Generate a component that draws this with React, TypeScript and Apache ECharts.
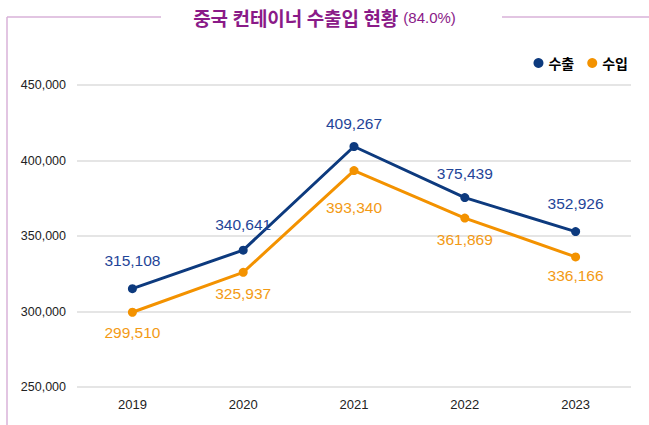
import React, { useEffect, useRef } from "react";
import * as echarts from "echarts";

const years = ["2019", "2020", "2021", "2022", "2023"];
const exportValues = [315108, 340641, 409267, 375439, 352926];
const importValues = [299510, 325937, 393340, 361869, 336166];
const seriesNames = ["수출", "수입"];
const titleMain = "중국 컨테이너 수출입 현황";
const titleSub = "(84.0%)";

// label placement (style only)
const exportLabelDistance = [16, 13, 11, 12, 16];
const importLabelDistance = [8, 9, 24, 9, 6];

const FONT = "'Liberation Sans Narrow', 'Arial Narrow', 'Liberation Sans', Arial, sans-serif";
const KFONT = "'Noto Sans CJK KR', 'Noto Sans', sans-serif";

const fmt = (v: number) => v.toLocaleString("en-US");

export default function App() {
  const ref = useRef<HTMLDivElement>(null);
  useEffect(() => {
    if (!ref.current) return;
    const chart = echarts.init(ref.current, undefined, { renderer: "svg" });
    chart.setOption({
      animation: false,
      backgroundColor: "#ffffff",
      title: {
        left: "center",
        top: 3,
        text: `{a|${titleMain}} {b|${titleSub}}`,
        textStyle: {
          rich: {
            a: { fontFamily: KFONT, fontSize: 19, fontWeight: "bold", color: "#8a1a88" },
            b: { fontFamily: FONT, fontSize: 15, fontWeight: "normal", color: "#8a1a88" },
          },
        },
      },
      graphic: [
        { type: "line", shape: { x1: 7, y1: 17, x2: 161, y2: 17 }, style: { stroke: "#d8b2d8", lineWidth: 1.5 } },
        { type: "line", shape: { x1: 502, y1: 17, x2: 649, y2: 17 }, style: { stroke: "#d8b2d8", lineWidth: 1.5 } },
        { type: "line", shape: { x1: 7, y1: 17, x2: 7, y2: 425 }, style: { stroke: "#d8b2d8", lineWidth: 1.5 } },
      ],
      legend: {
        right: 16,
        top: 51,
        itemWidth: 10,
        itemHeight: 10,
        itemGap: 13,
        icon: "circle",
        data: seriesNames,
        textStyle: { fontFamily: KFONT, fontSize: 14, fontWeight: "bold", color: "inherit" },
      },
      grid: { left: 77, right: 18, top: 85, bottom: 38, containLabel: false },
      xAxis: {
        type: "category",
        data: years,
        axisLine: { show: false },
        axisTick: { show: false },
        axisLabel: { fontFamily: FONT, fontSize: 13, color: "#222", margin: 11 },
      },
      yAxis: {
        type: "value",
        min: 250000,
        max: 450000,
        interval: 50000,
        axisLine: { show: false },
        axisTick: { show: false },
        splitLine: { lineStyle: { color: "#dddddd", width: 1.5 } },
        axisLabel: {
          fontFamily: FONT,
          fontSize: 12.5,
          color: "#222",
          margin: 11,
          formatter: (v: number) => fmt(v),
        },
      },
      series: [
        {
          name: seriesNames[0],
          type: "line",
          data: exportValues.map((v, i) => ({ value: v, label: { distance: exportLabelDistance[i] } })),
          color: "#0d3a7e",
          symbol: "circle",
          symbolSize: 9,
          lineStyle: { width: 3, color: "#0d3a7e" },
          itemStyle: { color: "#0d3a7e" },
          label: {
            show: true,
            position: "top",
            fontFamily: FONT,
            fontSize: 15.5,
            color: "#1f4598",
            formatter: (p: any) => fmt(Number(p.value)),
          },
        },
        {
          name: seriesNames[1],
          type: "line",
          data: importValues.map((v, i) => ({ value: v, label: { distance: importLabelDistance[i] } })),
          color: "#f39200",
          symbol: "circle",
          symbolSize: 9,
          lineStyle: { width: 3, color: "#f39200" },
          itemStyle: { color: "#f39200" },
          label: {
            show: true,
            position: "bottom",
            fontFamily: FONT,
            fontSize: 15.5,
            color: "#f39a14",
            formatter: (p: any) => fmt(Number(p.value)),
          },
        },
      ],
    });
    return () => chart.dispose();
  }, []);
  return <div ref={ref} style={{ width: 649, height: 425, position: "fixed", left: 0, top: 0 }} />;
}
